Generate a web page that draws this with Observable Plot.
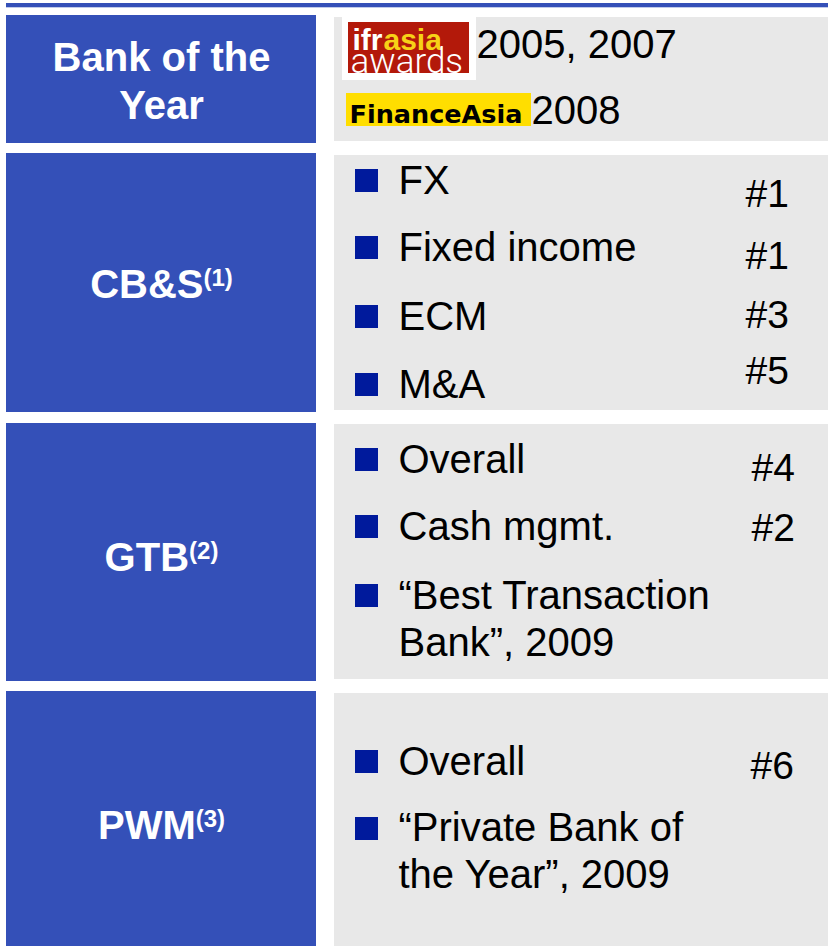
<!DOCTYPE html>
<html><head><meta charset="utf-8">
<script src="https://cdn.jsdelivr.net/npm/d3@7"></script>
<script src="https://cdn.jsdelivr.net/npm/@observablehq/plot@0.6"></script>
<style>body{margin:0;background:#fff} #chart svg{display:block}</style>
</head><body><div id="chart"></div>
<script>
// ---------- data ----------
const sections = ["Bank of the\nYear", "CB&S", "GTB", "PWM"];
const sectionNotes = ["", "(1)", "(2)", "(3)"];
const itemSection = [1, 1, 1, 1, 2, 2, 2, 3, 3];
const itemLabels = ["FX", "Fixed income", "ECM", "M&A", "Overall", "Cash mgmt.",
  "\u201CBest Transaction\nBank\u201D, 2009", "Overall", "\u201CPrivate Bank of\nthe Year\u201D, 2009"];
const itemRanks = ["#1", "#1", "#3", "#5", "#4", "#2", "", "#6", ""];
const ifrLogoParts = ["ifr", "asia", "awards"];
const faLogoName = ["FinanceAsia"];
const awardYears = ["2005, 2007", "2008"];

// ---------- layout & style ----------
const W = 828, H = 946;
const BLUE = "#3450b8", GRAY = "#e8e8e8", NAVY = "#001a9c";
const FONT = "Liberation Sans, Arial, sans-serif";
const sectionBox = [[15, 143], [153, 412], [423, 681], [691, 946]];
const panelBox = [[17, 141], [155, 410], [424, 679], [693, 946]];
const sectionBaseline = [118, 297, 570, 838];
const itemBaseline = [193, 260, 329, 397, 472, 539, 655, 774, 887];
const itemFirstBaseline = [193, 260, 329, 397, 472, 539, 608, 774, 841];
const rankBaseline = [206, 268, 327, 383, 480, 540, 0, 778, 0];
const rankX = [745, 745, 745, 745, 751, 751, 0, 750, 0];
const LABEL_SIZE = 40, NOTE_SIZE = 24, BODY_SIZE = 40, RANK_SIZE = 39;

function measure(text, size, weight, family) {
  const svg = d3.select("body").append("svg").attr("width", 10).attr("height", 10);
  const t = svg.append("text").attr("font-size", size).attr("font-weight", weight)
    .attr("font-family", family).text(text);
  const w = t.node().getComputedTextLength();
  svg.remove();
  return w;
}

const CX = 161;
const labelW = sections.map(s => measure(s, LABEL_SIZE, "bold", FONT));
const noteW = sectionNotes.map(s => s ? measure(s, NOTE_SIZE, "bold", FONT) : 0);
const labelStart = sections.map((s, i) => CX - (labelW[i] + noteW[i]) / 2);
const labelCenter = sections.map((s, i) => sectionNotes[i] ? labelStart[i] + labelW[i] / 2 : CX);

const ifrW = measure(ifrLogoParts[0], 30, "bold", FONT);
const idx = arr => arr.map((d, i) => i);
const rankIdx = idx(itemRanks).filter(i => itemRanks[i]);

const plot = Plot.plot({
  width: W, height: H,
  margin: 0,
  x: {type: "linear", domain: [0, W], range: [0, W], axis: null},
  y: {type: "linear", domain: [0, H], range: [0, H], axis: null},
  style: {background: "white"},
  marks: [
    // top rule
    Plot.rect([0], {x1: 6, x2: W, y1: 3, y2: 7.3, fill: BLUE}),
    // section boxes
    Plot.rect(idx(sections), {x1: 6, x2: 316, y1: i => sectionBox[i][0], y2: i => sectionBox[i][1], fill: BLUE}),
    Plot.rect(idx(sections), {x1: 334, x2: W, y1: i => panelBox[i][0], y2: i => panelBox[i][1], fill: GRAY}),
    // section labels
    Plot.text(idx(sections), {
      x: i => labelCenter[i], y: i => sectionBaseline[i],
      text: i => sections[i], textAnchor: "middle",
      lineAnchor: "bottom", lineHeight: 48 / LABEL_SIZE,
      fill: "white", fontWeight: "bold", fontSize: LABEL_SIZE, fontFamily: FONT
    }),
    Plot.text(idx(sections).filter(i => sectionNotes[i]), {
      x: i => labelStart[i] + labelW[i], y: i => sectionBaseline[i] - 12,
      text: i => sectionNotes[i], textAnchor: "start", lineAnchor: "bottom",
      fill: "white", fontWeight: "bold", fontSize: NOTE_SIZE, fontFamily: FONT
    }),
    // bullets
    Plot.rect(idx(itemLabels), {x1: 355, x2: 378, y1: i => itemFirstBaseline[i] - 24, y2: i => itemFirstBaseline[i] - 1, fill: NAVY}),
    // item labels
    Plot.text(idx(itemLabels), {
      x: 398, y: i => itemBaseline[i], text: i => itemLabels[i],
      textAnchor: "start", lineAnchor: "bottom", lineHeight: 47 / BODY_SIZE,
      fill: "black", fontSize: BODY_SIZE, fontFamily: FONT
    }),
    // ranks
    Plot.text(rankIdx, {
      x: i => rankX[i], y: i => rankBaseline[i], text: i => itemRanks[i],
      textAnchor: "start", lineAnchor: "bottom",
      fill: "black", fontSize: RANK_SIZE, fontFamily: FONT
    }),
    // ifr asia awards logo
    Plot.rect([0], {x1: 342, x2: 476, y1: 17, y2: 80, fill: "white"}),
    Plot.rect([0], {x1: 348, x2: 469, y1: 22, y2: 73, fill: "#b3190a"}),
    Plot.text([ifrLogoParts[0]], {x: 352, y: 49, text: d => d, textAnchor: "start", lineAnchor: "bottom",
      fill: "white", fontWeight: "bold", fontSize: 30, fontFamily: FONT}),
    Plot.text([ifrLogoParts[1]], {x: 353 + ifrW, y: 49, text: d => d, textAnchor: "start", lineAnchor: "bottom",
      fill: "#f7d117", fontWeight: "bold", fontSize: 30, fontFamily: FONT}),
    Plot.text([ifrLogoParts[2]], {x: 350, y: 72, text: d => d, textAnchor: "start", lineAnchor: "bottom",
      fill: "white", fontWeight: 300, fontSize: 35, fontFamily: "Roboto, sans-serif"}),
    // FinanceAsia logo
    Plot.rect([0], {x1: 346, x2: 531, y1: 93, y2: 126, fill: "#ffde00"}),
    Plot.text(faLogoName, {x: 349, y: 122, text: d => d, textAnchor: "start", lineAnchor: "bottom",
      fill: "black", fontWeight: "bold", fontSize: 25.5, fontFamily: "DejaVu Sans, sans-serif"}),
    // award years
    Plot.text(awardYears, {x: (d, i) => [476, 531][i], y: (d, i) => [57, 123][i], text: d => d,
      textAnchor: "start", lineAnchor: "bottom", fill: "black", fontSize: BODY_SIZE, fontFamily: FONT})
  ]
});
document.getElementById("chart").append(plot);
</script>
</body></html>
